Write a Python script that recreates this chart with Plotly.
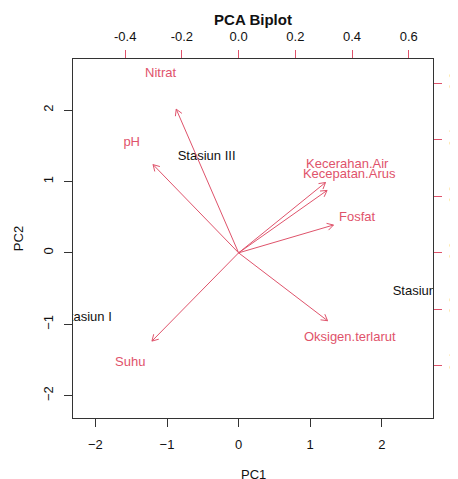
import numpy as np
import plotly.graph_objects as go

# ---- data ----
stations = ["Stasiun I", "Stasiun II", "Stasiun III"]
pc1_scores = [-2.125, 2.53, -0.447]
pc2_scores = [-0.915, -0.55, 1.351]

variables = ["Nitrat", "pH", "Suhu", "Oksigen.terlarut",
             "Kecerahan.Air", "Kecepatan.Arus", "Fosfat"]
load_pc1 = [-0.275, -0.377, -0.382, 0.392, 0.383, 0.390, 0.418]
load_pc2 = [0.635, 0.390, -0.390, -0.300, 0.311, 0.276, 0.123]

score_ticks = [-2, -1, 0, 1, 2]
load_ticks = [-0.4, -0.2, 0.0, 0.2, 0.4, 0.6]
load_tick_text = ["-0.4", "-0.2", "0.0", "0.2", "0.4", "0.6"]

# ---- styling ----
RED = "#DF536B"
FONT = "Arial, Liberation Sans, sans-serif"
score_range = [-2.313, 2.715]
ratio = 3.961
load_range = [score_range[0] / ratio, score_range[1] / ratio]

# page body has an 8px margin; size the figure so it fits the window
W, H = 450, 471

# arrows (to 0.8 * loading, as R biplot does) with open V heads
head = 0.025
ang = np.deg2rad(30)
ax_x, ax_y = [], []
for lx, ly in zip(load_pc1, load_pc2):
    tx, ty = 0.8 * lx, 0.8 * ly
    n = np.hypot(tx, ty)
    ux, uy = tx / n, ty / n
    ax_x += [0, tx, None]
    ax_y += [0, ty, None]
    for s in (1, -1):
        c, sn = np.cos(s * ang), np.sin(s * ang)
        rx, ry = ux * c - uy * sn, ux * sn + uy * c
        ax_x += [tx - head * rx, tx, None]
        ax_y += [ty - head * ry, ty, None]

fig = go.Figure()
fig.add_trace(go.Scatter(
    x=pc1_scores, y=pc2_scores, text=stations, mode="text",
    textfont=dict(family=FONT, size=13, color="#111"),
    xaxis="x", yaxis="y", cliponaxis=True, hoverinfo="text"))
fig.add_trace(go.Scatter(
    x=ax_x, y=ax_y, mode="lines", line=dict(color=RED, width=1),
    xaxis="x2", yaxis="y2", hoverinfo="skip"))
fig.add_trace(go.Scatter(
    x=load_pc1, y=load_pc2, text=variables, mode="text",
    textfont=dict(family=FONT, size=13, color=RED),
    xaxis="x2", yaxis="y2", cliponaxis=True, hoverinfo="text"))

axis_common = dict(showgrid=False, zeroline=False, showline=True,
                   linecolor="#333", linewidth=1, ticks="outside", ticklen=8,
                   tickwidth=1, automargin=False,
                   tickfont=dict(family=FONT, size=13, color="#111"))

fig.update_layout(
    width=W, height=H,
    margin=dict(l=65, r=25, t=51, b=61),
    paper_bgcolor="white", plot_bgcolor="white",
    showlegend=False,
    font=dict(family=FONT, size=13, color="#111"),
    title=dict(text="<b>PCA Biplot</b>", x=0.5, xref="paper", xanchor="center",
               y=1 - 12 / H, yref="container", yanchor="middle",
               font=dict(family=FONT, size=15, color="#111")),
    xaxis=dict(range=score_range, tickvals=score_ticks, tickcolor="#333",
               ticklabelstandoff=6, **axis_common),
    yaxis=dict(range=score_range, tickvals=score_ticks, tickcolor="#333",
               tickangle=-90, ticklabelstandoff=6,
               title=dict(text="PC2", standoff=14, font=dict(size=13)),
               **axis_common),
    xaxis2=dict(range=load_range, tickvals=load_ticks, ticktext=load_tick_text,
                overlaying="x", side="top", anchor="y", tickcolor=RED,
                ticklabelstandoff=4, **axis_common),
    yaxis2=dict(range=load_range, tickvals=load_ticks, ticktext=load_tick_text,
                overlaying="y", side="right", anchor="x", tickcolor=RED,
                tickangle=-90, ticklabelstandoff=1, **axis_common),
    annotations=[dict(text="PC1", xref="paper", yref="paper", x=0.5, y=0,
                      yshift=-56, xanchor="center", yanchor="middle",
                      showarrow=False, font=dict(family=FONT, size=13, color="#111"))],
)

fig.write_html("out.html")
